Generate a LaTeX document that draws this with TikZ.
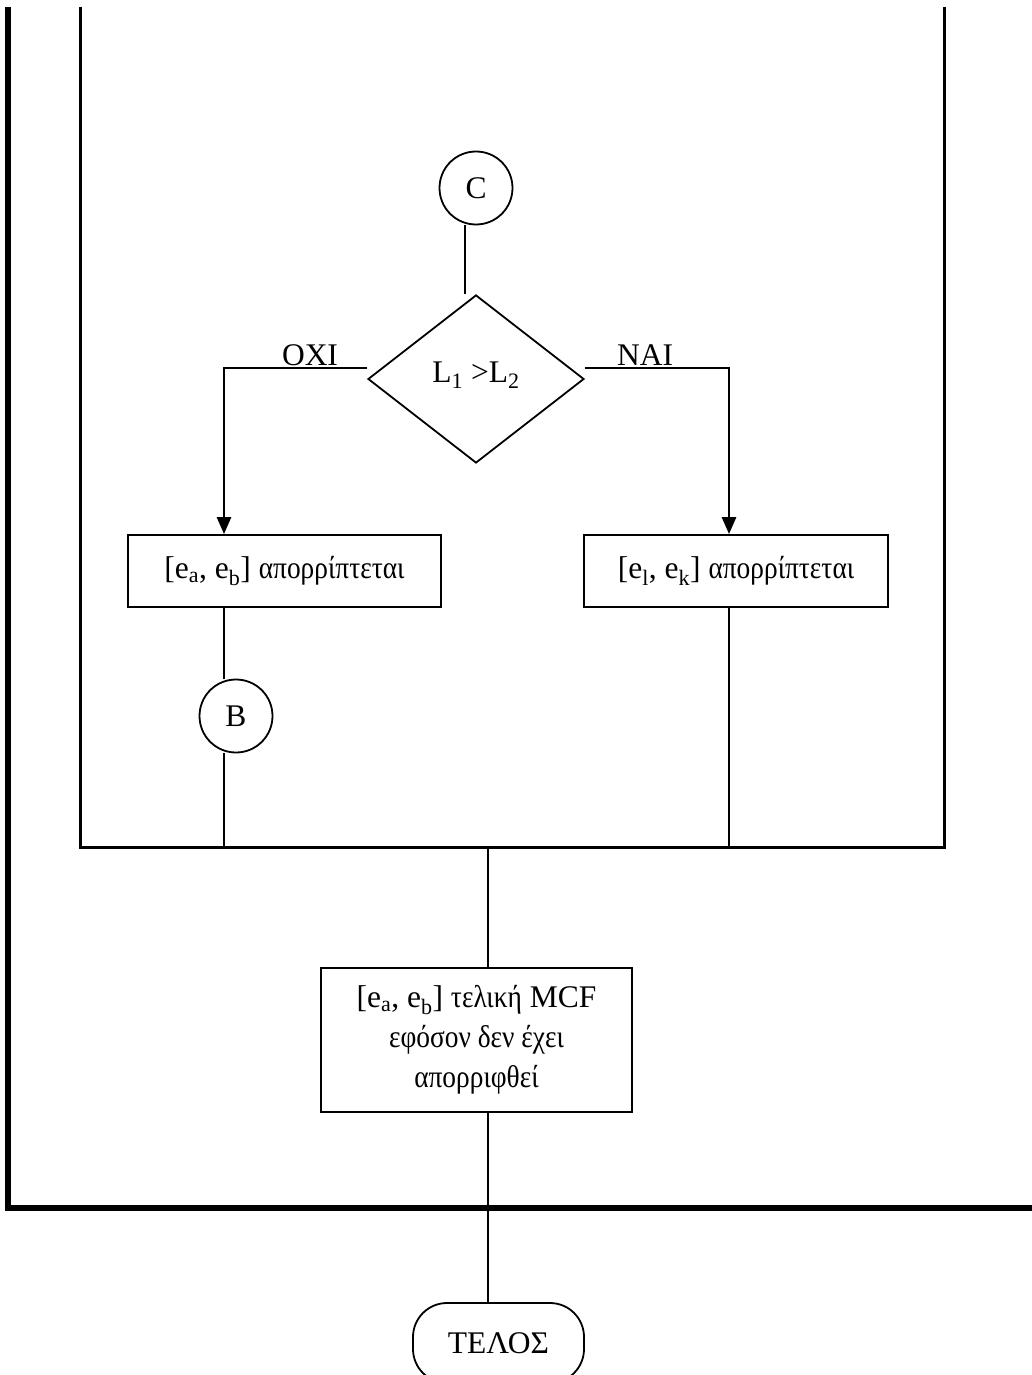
\documentclass[tikz,border=0pt]{standalone}
\usepackage{fontspec}
\setmainfont{Liberation Serif}
% slightly condensed face for the lowercase Greek words
\newfontfamily\grk[FakeStretch=0.87]{Liberation Serif}
\usetikzlibrary{shapes.geometric,arrows.meta}
\begin{document}
\begin{tikzpicture}[x=1pt,y=-1pt,
  every node/.style={font=\fontsize{31.5}{40}\selectfont, inner sep=0pt},
  ln/.style={line width=1.8pt},
  arr/.style={line width=2.8pt,-{Triangle[length=17pt,width=14pt]}},
  conn/.style={draw,circle,line width=1.8pt,minimum size=73pt},
  proc/.style={draw,rectangle,line width=1.8pt,align=center},
  dec/.style={draw,diamond,line width=1.8pt,minimum width=216pt,minimum height=168pt},
  term/.style={draw,rectangle,rounded corners=34pt,line width=1.8pt,minimum width=171pt,minimum height=80pt},
  frame/.style={line width=3pt},
  outer/.style={line width=6pt}]
\useasboundingbox (0,0) rectangle (1032,1375);

% loop frames
\draw[outer] (8,7) -- (8,1208) -- (1040,1208);
\draw[frame] (80,7) -- (80,847) -- (944,847) -- (944,7);

% nodes
\node[conn] (C) at (476,188) {C};
\node[dec] (D) at (476,379) {\raisebox{13pt}{L\textsubscript{1} >L\textsubscript{2}}};
\node[proc,minimum width=313pt,minimum height=72pt] (L) at (284.5,571) {[e\textsubscript{a}, e\textsubscript{b}] {\grk απορρίπτεται}};
\node[proc,minimum width=304pt,minimum height=72pt] (R) at (736,571) {[e\textsubscript{l}, e\textsubscript{k}] {\grk απορρίπτεται}};
\node[conn] (B) at (236,716) {B};
\node[proc,minimum width=311pt,minimum height=144pt] (M) at (476.5,1040)
  {[e\textsubscript{a}, e\textsubscript{b}] {\grk τελική} MCF\\{\grk εφόσον δεν έχει}\\{\grk απορριφθεί}};
\node[term] (T) at (498.5,1343) {ΤΕΛΟΣ};

% branch labels
\node[anchor=south] (no) at (310,366) {ΟΧΙ};
\node[anchor=south] (yes) at (645,366) {ΝΑΙ};

% helper coordinates
\coordinate (lx) at (224,0);
\coordinate (rx) at (729,0);
\coordinate (mx) at (488,0);
\coordinate (cx) at (465,0);
\coordinate (inner) at (0,847);

% connectors
\draw[ln] (cx |- C.south) -- (cx |- D.north);
\draw[arr] ([yshift=11pt]D.west) -| (lx |- L.north);
\draw[arr] ([yshift=11pt]D.east) -| (rx |- R.north);
\draw[ln] (lx |- L.south) -- (lx |- B.north);
\draw[ln] (lx |- B.south) -- (lx |- inner);
\draw[ln] (rx |- R.south) -- (rx |- inner);
\draw[ln] (mx |- inner) -- (mx |- M.north);
\draw[ln] (mx |- M.south) -- (mx |- T.north);
\end{tikzpicture}
\end{document}
